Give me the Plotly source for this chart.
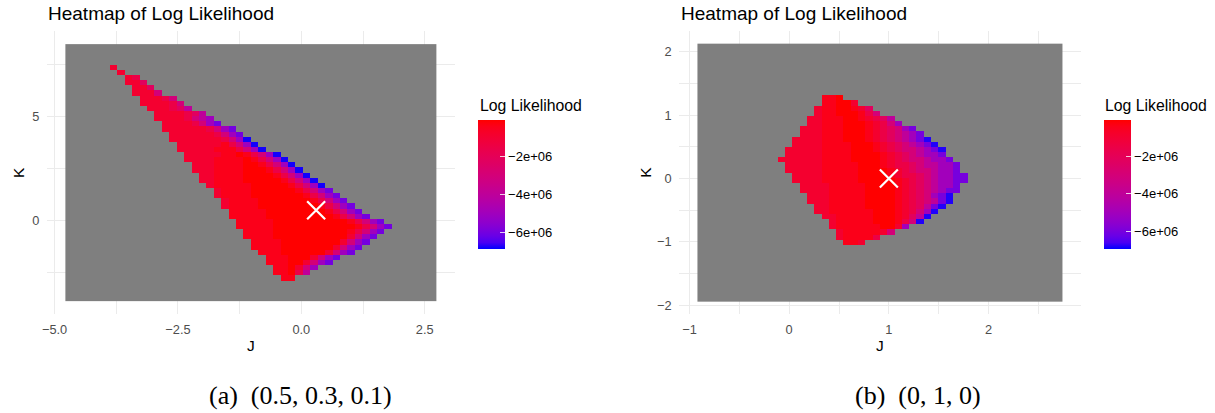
import numpy as np
import plotly.graph_objects as go

# ---------------- data ----------------
# value levels used in the cell strings (log likelihood)
LEVEL_VALUES = {"0": -0.06e6, "1": -0.4e6, "2": -0.9e6, "3": -1.5e6, "4": -2.2e6,
                "5": -3.0e6, "6": -4.0e6, "7": -5.0e6, "8": -6.0e6, "9": -6.8e6}
N_GRID = 50

# panel (a): grid extent, rows listed from top (high K) to bottom
J_EDGES_A = [-4.78, 2.74]
K_EDGES_A = [-3.85, 8.47]
ROW_START_A = [0, 0, 0, 0, 6, 7, 8, 8, 9, 9, 10, 10, 11, 12, 12, 13, 13, 14, 14, 15,
               15, 16, 16, 17, 17, 18, 18, 19, 20, 20, 21, 21, 22, 22, 23, 23, 24, 24, 25, 25,
               26, 27, 27, 28, 28, 29, 0, 0, 0, 0]
ROW_CELLS_A = ["", "", "", "", "2", "2", "23", "224", "224", "2225",
               "22235", "222235", "222346", "2222346", "22223567", "22223578",
               "2222223578", "2222223578", "22222223579", "22222213579",
               "222221113579", "2222211013579", "22221111013579", "22211110013579",
               "222111100013579", "221111000013579", "2211110000013579", "2111110000013579",
               "2111100000013578", "21111000000013578", "21111000000013578",
               "211110000000013578", "111110000000013578", "1111100000000013578",
               "11111000000000013578", "111110000000000013578", "1111000000000013578",
               "111100000000002578", "1111000000002578", "111100000002578",
               "1110000002578", "1110002578", "111002578", "110257", "11036", "11",
               "", "", "", ""]
MLE_A = [0.30, 0.50]
ZRANGE_A = [-6.88e6, -0.06e6]

# panel (b)
J_EDGES_B = [-0.92, 2.74]
K_EDGES_B = [-1.94, 2.13]
ROW_START_B = [0, 0, 0, 0, 0, 0, 0, 0, 0, 0, 17, 17, 16, 16, 15, 15, 14, 14, 13, 13,
               12, 12, 11, 12, 12, 13, 13, 14, 14, 15, 15, 16, 16, 17, 18, 18, 19, 19, 20, 0,
               0, 0, 0, 0, 0, 0, 0, 0, 0, 0]
ROW_CELLS_B = ["", "", "", "", "", "", "", "", "", "",
               "110", "11002", "21100124", "211000135", "221110012346", "2211100012357",
               "2221110001234578", "22211100012345678", "2222111000123456789",
               "22221111000123456789", "2222211110001234556789", "2222211110000123456778",
               "222222111100001234556778", "222221111100012334566778",
               "222221111100001234556778", "222211111000012334567788",
               "222211111000001234567788", "2222111110000123456778",
               "2222111110000123456788", "22211111000012345789", "22211111000012345689",
               "221111100001234689", "22111111000123579", "221111100012469",
               "2111110001359", "21111110027", "21111125", "211113", "112",
               "", "", "", "", "", "", "", "", "", "", ""]
MLE_B = [1.0, 0.0]
ZRANGE_B = [-6.95e6, -0.07e6]

CBAR_TICKVALS = [-6e6, -4e6, -2e6]
CBAR_TICKTEXT = ["\u22126e+06", "\u22124e+06", "\u22122e+06"]
TITLE = "Heatmap of Log Likelihood"
CAPTIONS = ["(a)  (0.5, 0.3, 0.1)", "(b)  (0, 1, 0)"]

W, H = 1215, 413


def PX(x):
    return x / W


def PY(y):
    return 1 - y / H


# ---------------- helpers ----------------
def build_grid(starts, cells):
    z = np.full((N_GRID, N_GRID), np.nan)
    for r, (s, c) in enumerate(zip(starts, cells)):
        for i, ch in enumerate(c):
            if s + i < N_GRID:
                z[r, s + i] = LEVEL_VALUES[ch]
    return z[::-1]  # first row of z is the bottom row


def _lin(c):
    return c / 12.92 if c <= 0.04045 else ((c + 0.055) / 1.055) ** 2.4


def _gam(c):
    c = min(max(c, 0.0), 1.0)
    return 12.92 * c if c <= 0.0031308 else 1.055 * c ** (1 / 2.4) - 0.055


WHITE = (0.95047, 1.0, 1.08883)


def rgb2lab(rgb):
    r, g, b = [_lin(v) for v in rgb]
    X = 0.4124 * r + 0.3576 * g + 0.1805 * b
    Y = 0.2126 * r + 0.7152 * g + 0.0722 * b
    Z = 0.0193 * r + 0.1192 * g + 0.9505 * b
    def f(t):
        return t ** (1 / 3) if t > 0.008856 else 7.787 * t + 16 / 116
    fx, fy, fz = f(X / WHITE[0]), f(Y / WHITE[1]), f(Z / WHITE[2])
    return (116 * fy - 16, 500 * (fx - fy), 200 * (fy - fz))


def lab2rgb(lab):
    L, a, b = lab
    fy = (L + 16) / 116
    fx = fy + a / 500
    fz = fy - b / 200
    def finv(t):
        return t ** 3 if t ** 3 > 0.008856 else (t - 16 / 116) / 7.787
    X, Y, Z = finv(fx) * WHITE[0], finv(fy) * WHITE[1], finv(fz) * WHITE[2]
    r = 3.2406 * X - 1.5372 * Y - 0.4986 * Z
    g = -0.9689 * X + 1.8758 * Y + 0.0415 * Z
    bb = 0.0557 * X - 0.2040 * Y + 1.0570 * Z
    return tuple(int(round(_gam(v) * 255)) for v in (r, g, bb))


def lab_scale(low=(0, 0, 1), high=(1, 0, 0), n=21):
    l1, l2 = rgb2lab(low), rgb2lab(high)
    out = []
    for i in range(n):
        t = i / (n - 1)
        lab = tuple(l1[k] + (l2[k] - l1[k]) * t for k in range(3))
        r, g, b = lab2rgb(lab)
        out.append([t, f"rgb({r},{g},{b})"])
    return out


COLORSCALE = lab_scale()
SANS = "Liberation Sans"

fig = go.Figure()

panels = [
    dict(starts=ROW_START_A, cells=ROW_CELLS_A, je=J_EDGES_A, ke=K_EDGES_A, mle=MLE_A,
         zr=ZRANGE_A, xa="x", ya="y", cbx=PX(475)),
    dict(starts=ROW_START_B, cells=ROW_CELLS_B, je=J_EDGES_B, ke=K_EDGES_B, mle=MLE_B,
         zr=ZRANGE_B, xa="x2", ya="y2", cbx=PX(1104)),
]

for p in panels:
    z = build_grid(p["starts"], p["cells"])
    dx = (p["je"][1] - p["je"][0]) / N_GRID
    dy = (p["ke"][1] - p["ke"][0]) / N_GRID
    # grey NA background tile (the whole grid)
    fig.add_trace(go.Heatmap(
        z=[[1]], x0=(p["je"][0] + p["je"][1]) / 2, dx=p["je"][1] - p["je"][0],
        y0=(p["ke"][0] + p["ke"][1]) / 2, dy=p["ke"][1] - p["ke"][0],
        colorscale=[[0, "#7F7F7F"], [1, "#7F7F7F"]], showscale=False,
        hoverinfo="skip", xaxis=p["xa"], yaxis=p["ya"]))
    fig.add_trace(go.Heatmap(
        z=z, x0=p["je"][0] + dx / 2, dx=dx, y0=p["ke"][0] + dy / 2, dy=dy,
        colorscale=COLORSCALE, zmin=p["zr"][0], zmax=p["zr"][1],
        xaxis=p["xa"], yaxis=p["ya"],
        colorbar=dict(thickness=27, thicknessmode="pixels", len=129, lenmode="pixels",
                      x=p["cbx"], xanchor="left", xpad=0, y=PY(120), yanchor="top",
                      ypad=0, outlinewidth=0, tickvals=CBAR_TICKVALS, ticktext=CBAR_TICKTEXT,
                      ticks="inside", ticklen=5, tickcolor="rgba(255,255,255,0.8)",
                      tickwidth=1,
                      tickfont=dict(family=SANS, size=13, color="black"))))
    fig.add_trace(go.Scatter(
        x=[p["mle"][0]], y=[p["mle"][1]], mode="markers",
        marker=dict(symbol="x-thin", size=18, line=dict(color="white", width=2.2)),
        xaxis=p["xa"], yaxis=p["ya"], hoverinfo="skip"))

tickfont = dict(family=SANS, size=12.8, color="#4D4D4D")
common = dict(showgrid=True, gridcolor="#EBEBEB", gridwidth=1.4, zeroline=False,
              showline=False, ticks="outside", ticklen=4, tickcolor="rgba(0,0,0,0)",
              tickfont=tickfont)

fig.update_layout(
    width=W, height=H, margin=dict(l=0, r=0, t=0, b=0),
    paper_bgcolor="white", plot_bgcolor="white", showlegend=False,
    xaxis=dict(domain=[PX(42), PX(452)], range=[-5.156, 3.116], tick0=0, dtick=2.5,
               tickformat=".1f", anchor="y",
               minor=dict(showgrid=True, dtick=1.25, tick0=0, gridcolor="#EBEBEB", gridwidth=0.7),
               **common),
    yaxis=dict(domain=[PY(314), PY(31)], range=[-4.48, 9.10], tick0=0, dtick=5,
               anchor="x",
               minor=dict(showgrid=True, dtick=2.5, tick0=0, gridcolor="#EBEBEB", gridwidth=0.7),
               **common),
    xaxis2=dict(domain=[PX(677), PX(1080)], range=[-1.103, 2.923], tick0=0, dtick=1,
                anchor="y2",
                minor=dict(showgrid=True, dtick=0.5, tick0=0, gridcolor="#EBEBEB", gridwidth=0.7),
                **common),
    yaxis2=dict(domain=[PY(314), PY(31)], range=[-2.14, 2.33], tick0=0, dtick=1,
                anchor="x2",
                minor=dict(showgrid=True, dtick=0.5, tick0=0, gridcolor="#EBEBEB", gridwidth=0.7),
                **common),
)

ann = []
for xl in (41.7, 677.7):
    ann.append(dict(text=TITLE, x=PX(xl - 1), y=PY(13.3), xref="paper", yref="paper",
                    xanchor="left", yanchor="middle", showarrow=False,
                    font=dict(family=SANS, size=19, color="black")))
for xc in (247, 878.5):
    ann.append(dict(text="J", x=PX(xc), y=PY(345), xref="paper", yref="paper",
                    xanchor="center", yanchor="middle", showarrow=False,
                    font=dict(family=SANS, size=15.5, color="black")))
for xc in (13.5, 643):
    ann.append(dict(text="K", x=PX(xc), y=PY(172.5), xref="paper", yref="paper",
                    xanchor="center", yanchor="middle", showarrow=False, textangle=-90,
                    font=dict(family=SANS, size=15.5, color="black")))
for xl in (475.5, 1104):
    ann.append(dict(text="Log Likelihood", x=PX(xl - 1), y=PY(105), xref="paper", yref="paper",
                    xanchor="left", yanchor="middle", showarrow=False,
                    font=dict(family=SANS, size=15.8, color="black")))
for xc, cap in zip((297, 916.5), CAPTIONS):
    ann.append(dict(text=cap, x=PX(xc), y=PY(395.5), xref="paper", yref="paper",
                    xanchor="center", yanchor="middle", showarrow=False,
                    font=dict(family="Liberation Serif", size=26, color="black")))
fig.update_layout(annotations=ann)

fig.write_html("out.html", config={"displayModeBar": False},
               post_script="document.body.style.margin='0';document.body.style.overflow='hidden';")
